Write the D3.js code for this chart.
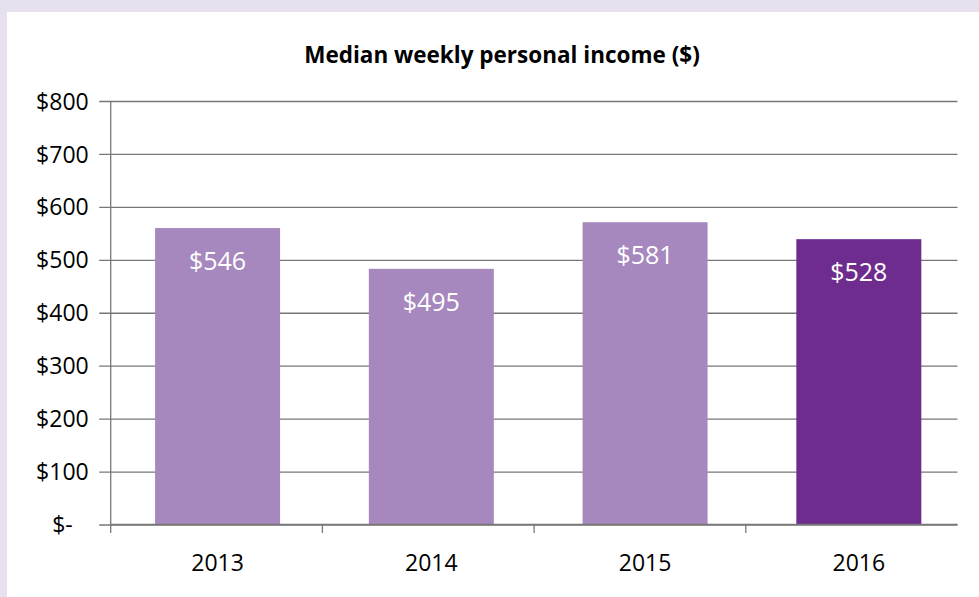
<!DOCTYPE html>
<html>
<head>
<meta charset="utf-8">
<script src="https://cdn.jsdelivr.net/npm/d3@7"></script>
<style>
  html, body { margin: 0; padding: 0; background: #e6e0ef; }
  svg { display: block; }
</style>
</head>
<body>
<svg id="mainsvg" width="979" height="597"></svg>
<script>
// data
const years = ['2013', '2014', '2015', '2016'];
const barValues = [560, 483, 571, 539];          // bar heights as drawn
const labelValues = [546, 495, 581, 528];        // numbers printed on the bars
const yTicks = [0, 100, 200, 300, 400, 500, 600, 700, 800];
const title = 'Median weekly personal income ($)';

const svg = d3.select('#mainsvg');
const width = +svg.attr('width');
const height = +svg.attr('height');
const font = "'Open Sans', 'Noto Sans', sans-serif";
const lineColor = '#777777';

// white chart panel on the lavender frame
svg.append('rect')
    .attr('x', 7).attr('y', 12)
    .attr('width', width - 7).attr('height', height - 12)
    .attr('fill', '#ffffff');

const margin = { top: 101, right: 21.5, bottom: 72.5, left: 110.7 };
const innerWidth = width - margin.left - margin.right;
const innerHeight = height - margin.top - margin.bottom;
const g = svg.append('g')
    .attr('transform', `translate(${margin.left}, ${margin.top})`);

// axis slots (tick marks) and bar slots are a touch different in the original
const axisScale = d3.scaleBand().domain(years).range([0, innerWidth]);
const xScale = d3.scaleBand().domain(years).range([0, 855]);
const yScale = d3.scaleLinear().domain([0, 800]).range([innerHeight, 0]);
const barWidth = 125;

// gridlines + y axis
const yAxis = d3.axisLeft(yScale)
    .tickValues(yTicks)
    .tickSize(-innerWidth)
    .tickPadding(22)
    .tickFormat(d => '$' + d);
const yAxisGroup = g.append('g').call(yAxis);
yAxisGroup.select('.domain').remove();
yAxisGroup.selectAll('.tick line')
    .attr('x1', -11.5)
    .attr('stroke', lineColor)
    .attr('stroke-width', 1.3);
yAxisGroup.selectAll('.tick text')
    .attr('font-family', font)
    .attr('font-size', '23px')
    .attr('fill', '#000')
    .attr('dy', '0.35em');
// accounting style zero: "$" then "-" set further right
const zeroTick = yAxisGroup.selectAll('.tick').filter(d => d === 0);
zeroTick.select('text').remove();
zeroTick.append('text')
    .attr('x', -58.5)
    .attr('dy', '0.35em')
    .attr('text-anchor', 'start')
    .attr('font-family', font)
    .attr('font-size', '23px')
    .attr('fill', '#000')
    .text('$-');

// bars
g.selectAll('.bar').data(years)
    .join('rect')
    .attr('class', 'bar')
    .attr('x', d => xScale(d) + (xScale.bandwidth() - barWidth) / 2)
    .attr('y', (d, i) => yScale(barValues[i]))
    .attr('width', barWidth)
    .attr('height', (d, i) => innerHeight - yScale(barValues[i]))
    .attr('fill', (d, i) => i === years.length - 1 ? '#6f2c8f' : '#a688be');

// value labels inside the top of each bar
g.selectAll('.bar-label').data(years)
    .join('text')
    .attr('class', 'bar-label')
    .attr('x', d => xScale(d) + xScale.bandwidth() / 2)
    .attr('y', (d, i) => yScale(barValues[i]) + 42)
    .attr('text-anchor', 'middle')
    .attr('font-family', font)
    .attr('font-size', '25px')
    .attr('fill', '#ffffff')
    .text((d, i) => '$' + labelValues[i]);

// vertical axis line
g.append('line')
    .attr('x1', 0).attr('x2', 0)
    .attr('y1', 0).attr('y2', innerHeight + 8.5)
    .attr('stroke', lineColor).attr('stroke-width', 1.3);

// category axis
const xAxis = d3.axisBottom(xScale).tickSize(0).tickPadding(30);
const xAxisGroup = g.append('g')
    .attr('transform', `translate(0, ${innerHeight})`)
    .call(xAxis);
xAxisGroup.select('.domain')
    .attr('stroke', lineColor).attr('stroke-width', 1.3)
    .attr('d', `M0,0H${innerWidth}`);
xAxisGroup.selectAll('.tick text')
    .attr('font-family', font)
    .attr('font-size', '23px')
    .attr('fill', '#000');
xAxisGroup.selectAll('.sep').data(years.slice(1))
    .join('line')
    .attr('class', 'sep')
    .attr('x1', d => axisScale(d)).attr('x2', d => axisScale(d))
    .attr('y1', 0).attr('y2', 8.5)
    .attr('stroke', lineColor).attr('stroke-width', 1.3);

// title
svg.append('text')
    .attr('x', 502)
    .attr('y', 63)
    .attr('text-anchor', 'middle')
    .attr('font-family', font)
    .attr('font-weight', 'bold')
    .attr('font-size', '22.5px')
    .attr('fill', '#000')
    .text(title);
</script>
</body>
</html>
